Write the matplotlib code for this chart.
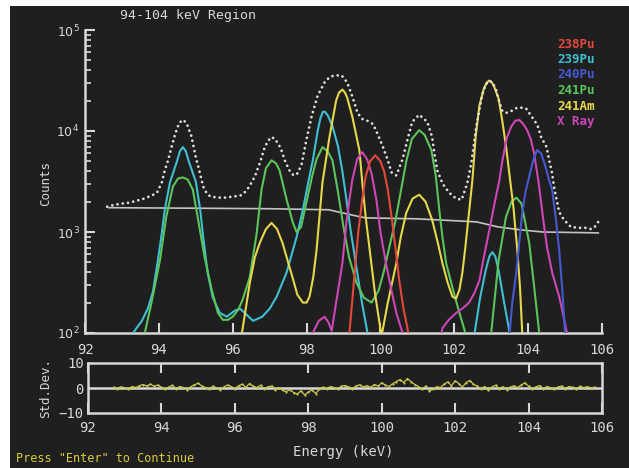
import numpy as np
import matplotlib
matplotlib.use("Agg")
import matplotlib.pyplot as plt
from matplotlib.patches import Rectangle
from matplotlib.ticker import LogLocator, NullFormatter, FixedLocator

# ---------------------------------------------------------------- data
# fitted components of the 94-104 keV region (energy in keV, counts)
pu238_e = [99.05, 99.16, 99.28, 99.4, 99.5, 99.6, 99.72, 99.86, 100.0, 100.1,
           100.2, 100.32, 100.42, 100.51, 100.62, 100.73, 100.8, 100.9]
pu238_c = [40, 100, 316, 1000, 2000, 3550, 5010, 5750, 5010, 3980,
           2630, 1260, 631, 331, 178, 112, 79, 40]

pu239_e = [93.15, 93.3, 93.54, 93.7, 93.84, 93.97, 94.08, 94.16, 94.3, 94.49,
           94.57, 94.65, 94.73, 94.81, 95.0, 95.12, 95.2, 95.32, 95.46, 95.65,
           95.84, 96.05, 96.2, 96.35, 96.55, 96.8, 97.0, 97.19, 97.46, 97.73,
           97.9, 98.05, 98.17, 98.3, 98.37, 98.44, 98.5, 98.58, 98.7, 98.85,
           98.97, 99.08, 99.2, 99.35, 99.5, 99.65, 99.8, 101.0, 102.4, 102.55,
           102.7, 102.85, 102.95, 103.03, 103.11, 103.2, 103.35, 103.5, 103.65]
pu239_c = [50, 100, 132, 174, 257, 513, 977, 1660, 3090, 5010,
           6310, 6920, 6310, 5010, 3160, 1660, 891, 398, 224, 158,
           145, 166, 174, 155, 132, 145, 174, 229, 398, 891,
           1660, 3160, 5130, 10000, 13200, 15500, 15500, 14100, 11200, 7080,
           3980, 2090, 1000, 447, 200, 100, 50, 10, 50, 100,
           224, 417, 575, 631, 575, 417, 200, 100, 50]

pu240_e = [103.35, 103.5, 103.57, 103.68, 103.76, 103.84, 103.93, 104.03, 104.13, 104.24,
           104.35, 104.46, 104.57, 104.65, 104.76, 104.84, 104.92, 105.0, 105.1]
pu240_c = [50, 100, 200, 398, 794, 1550, 2510, 3550, 5010, 6460,
           6030, 4570, 3240, 2630, 1260, 661, 282, 100, 40]

pu241_e = [93.45, 93.62, 93.8, 94.03, 94.2, 94.38, 94.52, 94.65, 94.78, 94.92,
           95.05, 95.24, 95.43, 95.6, 95.73, 95.87, 96.0, 96.15, 96.27, 96.46,
           96.65, 96.78, 96.9, 97.05, 97.17, 97.27, 97.46, 97.63, 97.73, 97.85,
           98.0, 98.15, 98.27, 98.43, 98.57, 98.7, 98.84, 99.0, 99.15, 99.35,
           99.55, 99.76, 99.95, 100.1, 100.24, 100.4, 100.55, 100.7, 100.85, 101.05,
           101.2, 101.38, 101.5, 101.6, 101.68, 101.78, 101.95, 102.1, 102.3, 102.5,
           102.85, 103.0, 103.2, 103.4, 103.55, 103.68, 103.82, 104.03, 104.15, 104.3,
           104.45]
pu241_c = [50, 100, 200, 525, 1410, 2820, 3390, 3470, 3310, 2630,
           1410, 562, 269, 158, 135, 135, 145, 170, 214, 355,
           977, 2630, 4270, 5130, 4790, 4070, 2090, 1230, 1000, 1120,
           2000, 3550, 5250, 6920, 6310, 5130, 2630, 1120, 562, 316,
           224, 200, 263, 417, 708, 1260, 2510, 5010, 8320, 10200,
           9120, 6460, 3550, 1580, 891, 490, 282, 178, 100, 40,
           40, 100, 525, 1410, 2000, 2190, 1910, 776, 316, 100,
           40]

am241_e = [96.1, 96.25, 96.46, 96.6, 96.73, 96.9, 97.05, 97.2, 97.35, 97.5,
           97.62, 97.75, 97.9, 98.0, 98.08, 98.18, 98.27, 98.43, 98.62, 98.8,
           98.88, 98.97, 99.04, 99.1, 99.24, 99.43, 99.52, 99.6, 99.7, 99.85,
           100.03, 100.2, 100.43, 100.55, 100.7, 100.87, 101.05, 101.22, 101.4, 101.55,
           101.68, 101.82, 101.95, 102.05, 102.14, 102.22, 102.3, 102.4, 102.49, 102.58,
           102.68, 102.8, 102.88, 102.95, 103.02, 103.08, 103.2, 103.3, 103.4, 103.5,
           103.6, 103.7, 103.78, 103.84, 103.95]
am241_c = [40, 100, 309, 562, 776, 1070, 1230, 1070, 776, 501,
           355, 240, 200, 200, 229, 355, 661, 3090, 8710, 20000,
           24000, 25700, 24000, 21400, 13800, 6460, 2820, 1410, 708, 251,
           93, 200, 490, 891, 1550, 2140, 2340, 2000, 1320, 794,
           490, 316, 229, 219, 269, 398, 708, 1580, 3240, 8910,
           17800, 26300, 30200, 31600, 30200, 27500, 20900, 12600, 7080, 3550,
           1780, 708, 282, 100, 32]

xray_e = [98.05, 98.17, 98.33, 98.49, 98.6, 98.68, 98.8, 98.97, 99.08, 99.16,
          99.24, 99.37, 99.51, 99.64, 99.76, 99.89, 100.0, 100.15, 100.3, 100.43,
          100.6, 100.75, 101.55, 101.68, 101.85, 102.05, 102.25, 102.4, 102.55, 102.68,
          102.8, 102.95, 103.1, 103.22, 103.3, 103.42, 103.54, 103.65, 103.76, 103.87,
          103.97, 104.07, 104.16, 104.28, 104.4, 104.51, 104.65, 104.84, 104.95, 105.05,
          105.2]
xray_c = [50, 100, 132, 145, 126, 105, 200, 490, 1260, 2090,
          3310, 5250, 6170, 5250, 3800, 2090, 1000, 490, 263, 158,
          100, 40, 63, 112, 135, 158, 178, 200, 251, 331,
          562, 1050, 2000, 3240, 5010, 8510, 11000, 12600, 12900, 11700,
          10200, 8320, 6030, 3160, 1410, 708, 398, 229, 151, 100,
          50]

# measured spectrum
meas_e = [92.6, 92.8, 93.0, 93.2, 93.4, 93.6, 93.8, 93.95, 94.08, 94.16,
          94.25, 94.35, 94.45, 94.55, 94.65, 94.75, 94.88, 95.0, 95.1, 95.2,
          95.3, 95.4, 95.6, 95.8, 96.0, 96.2, 96.3, 96.45, 96.6, 96.75,
          96.85, 96.95, 97.05, 97.15, 97.3, 97.42, 97.55, 97.65, 97.75, 97.86,
          98.0, 98.14, 98.3, 98.5, 98.65, 98.8, 98.95, 99.1, 99.25, 99.38,
          99.5, 99.65, 99.8, 99.9, 100.05, 100.2, 100.3, 100.43, 100.6, 100.73,
          100.86, 101.05, 101.27, 101.4, 101.46, 101.54, 101.68, 101.86, 102.05, 102.2,
          102.35, 102.46, 102.6, 102.75, 102.85, 102.95, 103.05, 103.13, 103.2, 103.3,
          103.4, 103.55, 103.7, 103.85, 103.95, 104.1, 104.25, 104.35, 104.5, 104.57,
          104.65, 104.7, 104.76, 104.84, 104.97, 105.16, 105.38, 105.55, 105.7, 105.8,
          105.9]
meas_c = [1780, 1860, 1910, 1950, 2040, 2140, 2290, 2450, 3090, 4070,
          5130, 7080, 9550, 12000, 12900, 12000, 8910, 5500, 3980, 2820,
          2400, 2240, 2190, 2190, 2240, 2290, 2400, 2820, 3550, 5010,
          6610, 7940, 8710, 8320, 6760, 5010, 3980, 3630, 3800, 4570,
          8320, 14100, 22400, 30900, 34700, 35500, 35500, 30200, 21400, 15100,
          13200, 12600, 11700, 9770, 7240, 5130, 3890, 3630, 5250, 8130,
          12300, 14500, 12300, 8710, 6030, 4070, 3020, 2450, 2140, 2090,
          3020, 4790, 11200, 22400, 28800, 31600, 29500, 25700, 20400, 15800,
          15100, 15800, 17000, 17000, 16600, 13800, 11500, 8710, 6920, 5130,
          3800, 2820, 2190, 1580, 1320, 1120, 1100, 1100, 1070, 1120,
          1260]

# continuum under the peaks
bkg_e = [92.65, 95.0, 97.0, 98.6, 99.2, 99.6, 101.0, 102.6, 103.2, 103.8, 104.4, 105.9]
bkg_c = [1740, 1720, 1700, 1660, 1480, 1380, 1350, 1260, 1120, 1050, 1000, 980]

# fit residuals (std. dev.), one value per 0.1 keV channel starting at 92.7 keV
resid_start, resid_step = 92.7, 0.1
resid = [0.3, -0.2, 0.5, 0.1, -0.4, 0.6, 0.2, 0.9, 1.4, 0.8,
         1.6, 0.7, 1.2, 0.3, -0.5, 0.4, 1.1, -0.3, 0.6, 0.2,
         -0.6, 0.5, 1.3, 1.9, 0.8, 0.2, -0.4, 0.7, 0.1, -0.8,
         0.4, 1.2, 0.6, -0.2, 0.9, 1.5, 0.3, 1.8, 0.7, 0.2,
         1.1, -0.3, 0.5, 0.8, -0.6, 0.2, -0.9, -1.4, -0.7, -1.8,
         -2.4, -1.1, -2.8, -1.6, -0.8, -2.2, -0.5, 0.3, -0.4, 0.6,
         0.2, -0.3, 0.7, 1.0, 0.4, -0.2, 0.8, 1.3, 0.5, 0.9,
         0.3, 1.4, 0.8, 2.1, 1.2, 0.6, 1.7, 2.6, 3.4, 2.2,
         3.8, 2.5, 1.4, 0.6, -0.5, 0.8, -1.2, -0.4, 0.5, 0.2,
         1.6, 2.4, 0.9, 2.9, 1.8, 0.4, 2.2, 3.0, 1.5, 0.8,
         -0.3, 0.6, -0.9, 0.4, 1.1, -0.2, 0.5, -0.6, 0.3, 0.9,
         0.2, 1.2, 2.1, 0.7, -0.4, 0.5, 1.0, -0.3, 0.6, 0.1,
         -0.5, 0.4, 0.8, -0.2, 0.6, 0.3, -0.4, 0.7, 0.2, 0.5,
         0.1, 0.3]

x_ticks = [92, 94, 96, 98, 100, 102, 104, 106]
legend_labels = ["238Pu", "239Pu", "240Pu", "241Pu", "241Am", "X Ray"]

# ---------------------------------------------------------------- style
W, H, DPI = 629, 468, 100
BG = "#1f1f1f"
FG = "#d8d8d8"
C_PU238 = "#e2483c"
C_PU239 = "#3fbfd0"
C_PU240 = "#4659d2"
C_PU241 = "#5cc45a"
C_AM241 = "#e6d84a"
C_XRAY = "#cc46b4"
legend_colors = [C_PU238, C_PU239, C_PU240, C_PU241, C_AM241, C_XRAY]
MONO = "DejaVu Sans Mono"
plt.rcParams["mathtext.fontset"] = "dejavusans"


def fx(px):
    return px / W


def fy(py):
    return 1 - py / H


fig = plt.figure(figsize=(W / DPI, H / DPI), dpi=DPI, facecolor="white")
fig.patches.append(Rectangle((fx(10), 0), 1 - fx(10), fy(6), transform=fig.transFigure,
                             facecolor=BG, edgecolor="none", zorder=-10))

# ---------------------------------------------------------------- spectrum
ax = fig.add_axes([fx(85), fy(333), fx(602 - 85), (333 - 30) / H])
ax.set_facecolor("none")
ax.set_yscale("log")
ax.set_xlim(92, 106)
ax.set_ylim(100, 1e5)

lw = 1.5
ax.plot(bkg_e, bkg_c, color="#c4c4c4", lw=1.2, zorder=2)
ax.plot(pu239_e, pu239_c, color=C_PU239, lw=lw, zorder=3)
ax.plot(pu241_e, pu241_c, color=C_PU241, lw=lw, zorder=3)
ax.plot(am241_e, am241_c, color=C_AM241, lw=lw, zorder=3)
ax.plot(xray_e, xray_c, color=C_XRAY, lw=lw, zorder=3)
ax.plot(pu238_e, pu238_c, color=C_PU238, lw=lw, zorder=3)
ax.plot(pu240_e, pu240_c, color=C_PU240, lw=lw, zorder=3)
ax.plot(meas_e, meas_c, color="#dedede", lw=2.0, linestyle=(0, (0.01, 1.9)),
        dash_capstyle="round", zorder=4)

for side in ("top", "right"):
    ax.spines[side].set_visible(False)
for side in ("left", "bottom"):
    ax.spines[side].set_color(FG)
    ax.spines[side].set_linewidth(1.8)

ax.xaxis.set_major_locator(FixedLocator(x_ticks))
ax.yaxis.set_major_locator(LogLocator(base=10, numticks=10))
ax.yaxis.set_minor_locator(LogLocator(base=10, subs=range(2, 10), numticks=10))
ax.yaxis.set_minor_formatter(NullFormatter())
ax.tick_params(axis="both", which="major", direction="in", length=7, width=1.5,
               color=FG, labelcolor=FG, labelsize=9)
ax.tick_params(axis="x", which="major", labelsize=10, pad=7)
ax.tick_params(axis="y", which="major", pad=4)
ax.tick_params(axis="y", which="minor", direction="in", length=4, width=1.2, color=FG)
for lab in ax.get_xticklabels():
    lab.set_fontfamily(MONO)

# ---------------------------------------------------------------- residuals
rx = fig.add_axes([fx(88), fy(413), fx(602 - 88), 50 / H])
rx.set_facecolor("none")
rx.set_xlim(92, 106)
rx.set_ylim(-10, 10)
res_e = [resid_start + i * resid_step for i in range(len(resid))]
rx.axhline(0, color=FG, lw=1.8, zorder=2)
rx.plot(res_e, resid, color="#c9c84e", lw=0.9, marker="o", ms=1.6, mew=0, zorder=3)
for side in rx.spines.values():
    side.set_color(FG)
    side.set_linewidth(1.8)
rx.xaxis.set_major_locator(FixedLocator(x_ticks))
rx.set_yticks([-10, 0, 10])
rx.tick_params(axis="x", which="major", direction="in", length=7, width=1.5, color=FG,
               labelcolor=FG, labelsize=10, pad=6, top=True)
rx.tick_params(axis="y", which="major", length=0, labelcolor=FG, labelsize=10, pad=3)
for lab in rx.get_xticklabels() + rx.get_yticklabels():
    lab.set_fontfamily(MONO)

# ---------------------------------------------------------------- text
fig.text(fx(188), fy(16), "94-104 keV Region", color=FG, fontsize=9.5, family=MONO,
         ha="center", va="center")
fig.text(fx(46), fy(183), "Counts", color=FG, fontsize=9, family=MONO, rotation=90,
         ha="center", va="center")
fig.text(fx(46), fy(388), "Std.Dev.", color=FG, fontsize=9, family=MONO, rotation=90,
         ha="center", va="center")
fig.text(fx(343), fy(452), "Energy (keV)", color=FG, fontsize=10, family=MONO,
         ha="center", va="center")
fig.text(fx(16), fy(458), 'Press "Enter" to Continue', color="#d8cc3c", fontsize=8.5,
         family=MONO, ha="left", va="center")

for i, (lab, col) in enumerate(zip(legend_labels, legend_colors)):
    fig.text(fx(557), fy(44 + i * 15.5), lab, color=col, fontsize=9, family=MONO,
             fontweight="bold", ha="left", va="center")

fig.savefig("out.png", dpi=DPI, facecolor=fig.get_facecolor())
